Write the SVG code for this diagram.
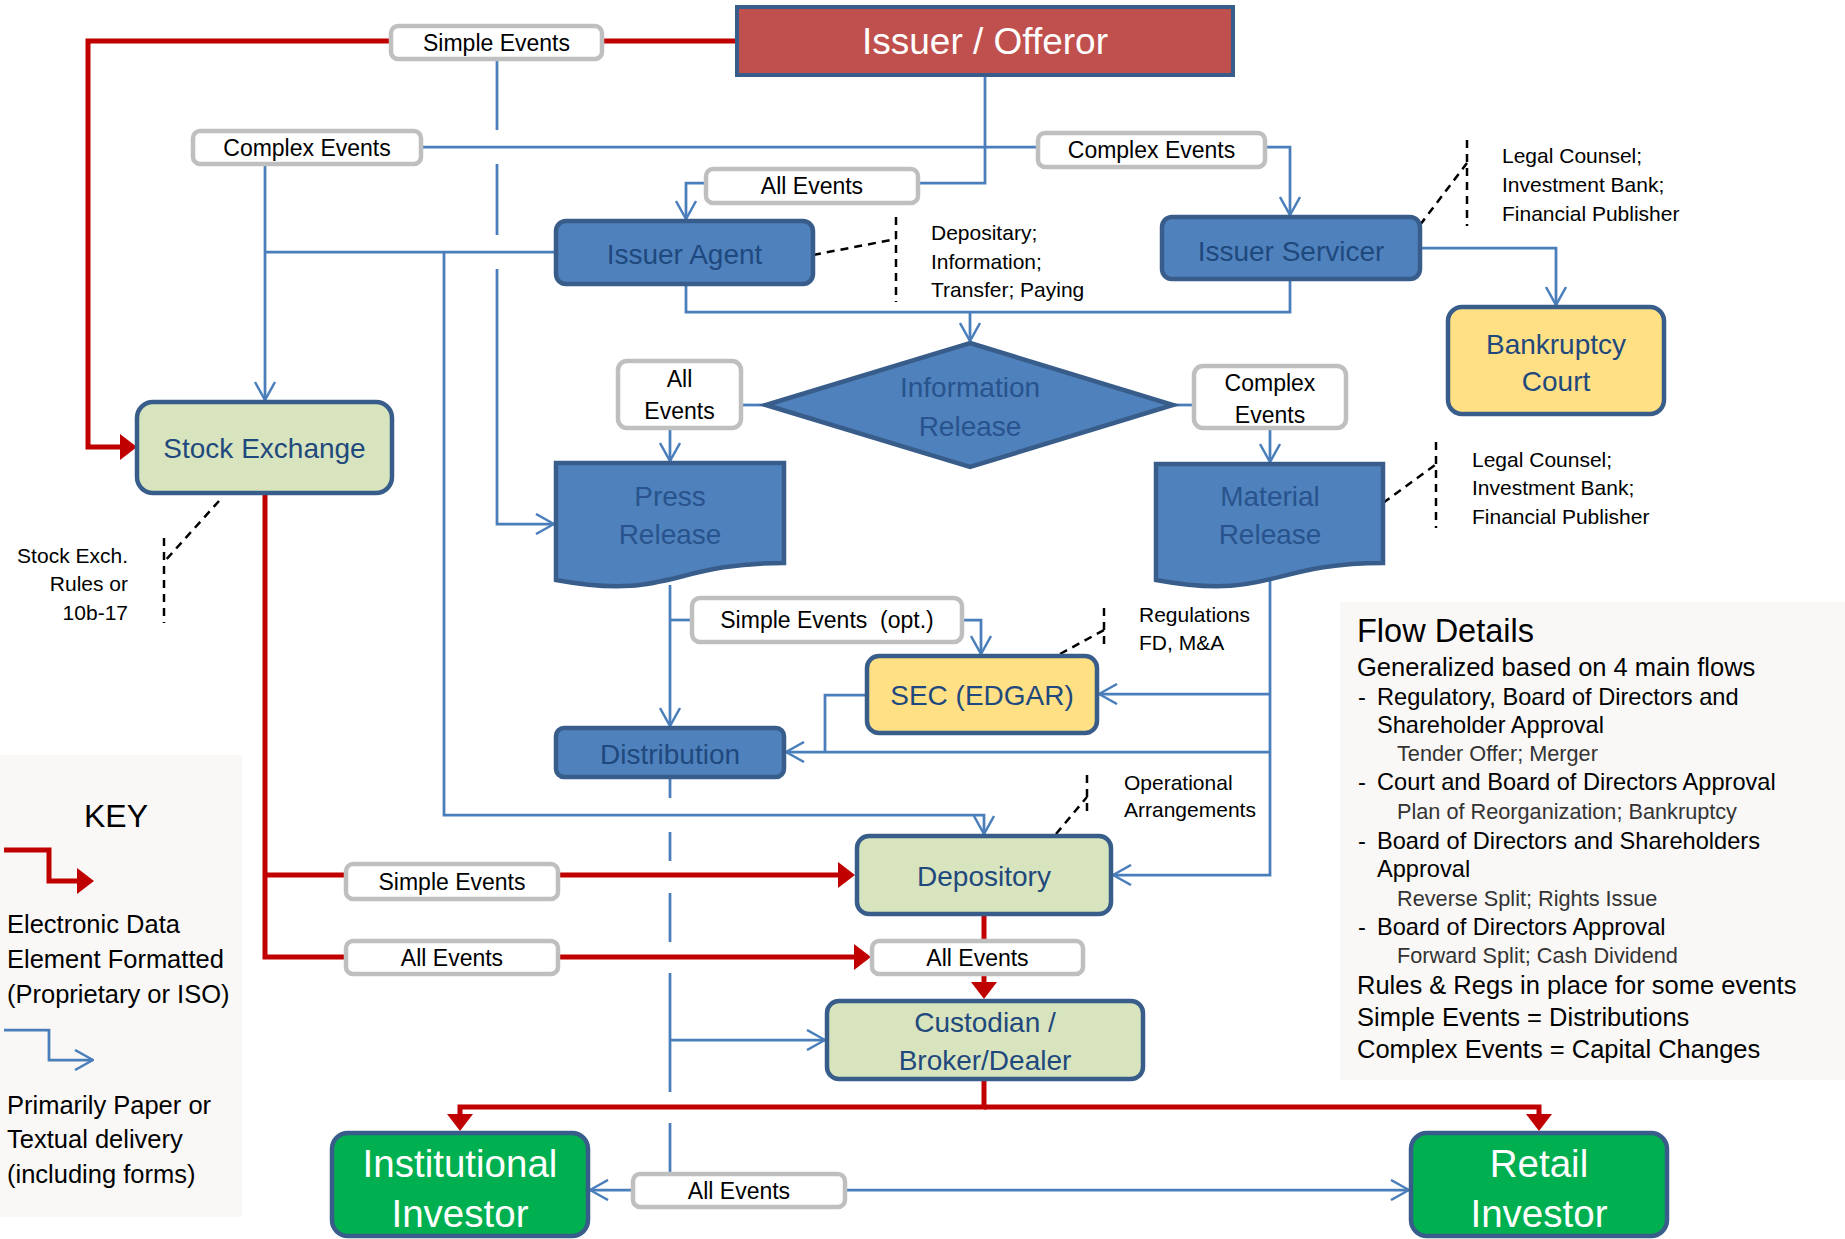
<svg xmlns="http://www.w3.org/2000/svg" width="1845" height="1239" viewBox="0 0 1845 1239">
  <defs>
    <style>
      text { font-family: "Liberation Sans", Arial, sans-serif; }
      .bl { fill: none; stroke: #4A7EBB; stroke-width: 2.75; }
      .rd { fill: none; stroke: #C00000; stroke-width: 5; }
      .dsh { fill: none; stroke: #000; stroke-width: 2.5; stroke-dasharray: 8 6; }
      .lbl { fill: #fff; stroke: #BFBFBF; stroke-width: 4.5; }
      .nb { stroke: #385D8A; stroke-width: 4.5; }
      .blue { fill: #4F81BD; }
      .green { fill: #D7E4BD; }
      .yel { fill: #FFE085; }
      .inv { fill: #00B050; }
      .panel { fill: #F9F8F6; }
      .lt { font-size: 23px; text-anchor: middle; fill: #000; }
      .nt { font-size: 28px; text-anchor: middle; fill: #1F497D; }
      .nt2 { font-size: 28px; text-anchor: middle; fill: #28538C; }
      .it { font-size: 38.5px; text-anchor: middle; fill: #fff; }
      .an { font-size: 21px; fill: #000; }
      .key { font-size: 25.5px; fill: #000; }
      .fd { font-size: 25.5px; fill: #000; }
      .fi { font-size: 23.6px; fill: #000; }
      .fs { font-size: 21.7px; fill: #333; }
    </style>
    <marker id="ab" viewBox="0 0 20 22" refX="19" refY="11" markerWidth="20" markerHeight="22" markerUnits="userSpaceOnUse" orient="auto">
      <path d="M1,1 L19,11 L1,21" fill="none" stroke="#4A7EBB" stroke-width="2.5"/>
    </marker>
    <marker id="ar" viewBox="0 0 17 26" refX="10" refY="13" markerWidth="17" markerHeight="26" markerUnits="userSpaceOnUse" orient="auto">
      <path d="M0,0 L17,13 L0,26 Z" fill="#C00000"/>
    </marker>
  </defs>

  <rect width="1845" height="1239" fill="#fff"/>

  <!-- side panels -->
  <rect class="panel" x="0" y="755" width="242" height="462"/>
  <rect class="panel" x="1340" y="602" width="505" height="478"/>

  <!-- connectors -->
  <g id="connectors">
    <!-- paper / textual flows -->
    <path class="bl" d="M985,75 V183 H918"/>
    <path class="bl" d="M421,147 H1038"/>
    <path class="bl" d="M1265,147 H1290 V215" marker-end="url(#ab)"/>
    <path class="bl" d="M706,183 H686 V219" marker-end="url(#ab)"/>
    <path class="bl" d="M265,164 V400" marker-end="url(#ab)"/>
    <path class="bl" d="M556,252 H265"/>
    <path class="bl" d="M444,252 V815 H984 V834" marker-end="url(#ab)"/>
    <path class="bl" d="M497,59 V130 M497,164 V235 M497,269 V524 H554" marker-end="url(#ab)"/>
    <path class="bl" d="M686,284 V312 H1290 V279"/>
    <path class="bl" d="M970,312 V341" marker-end="url(#ab)"/>
    <path class="bl" d="M1420,248 H1556 V305" marker-end="url(#ab)"/>
    <path class="bl" d="M766,405 H741"/>
    <path class="bl" d="M670,428 V461" marker-end="url(#ab)"/>
    <path class="bl" d="M1173,405 H1194"/>
    <path class="bl" d="M1270,428 V462" marker-end="url(#ab)"/>
    <path class="bl" d="M670,585 V726" marker-end="url(#ab)"/>
    <path class="bl" d="M670,620 H692"/>
    <path class="bl" d="M962,620 H981 V654" marker-end="url(#ab)"/>
    <path class="bl" d="M1270,579 V875 H1113" marker-end="url(#ab)"/>
    <path class="bl" d="M1270,694 H1099" marker-end="url(#ab)"/>
    <path class="bl" d="M1270,752 H786" marker-end="url(#ab)"/>
    <path class="bl" d="M867,695 H825 V752"/>
    <path class="bl" d="M670,777 V798 M670,832 V861 M670,893 V942 M670,973 V1092 M670,1123 V1174"/>
    <path class="bl" d="M670,1040 H825" marker-end="url(#ab)"/>
    <path class="bl" d="M633,1190 H590" marker-end="url(#ab)"/>
    <path class="bl" d="M845,1190 H1409" marker-end="url(#ab)"/>

    <!-- electronic data flows -->
    <path class="rd" d="M737,41 H602"/>
    <path class="rd" d="M391,41 H88 V447 H130" marker-end="url(#ar)"/>
    <path class="rd" d="M265,493 V957 H346"/>
    <path class="rd" d="M265,875 H346"/>
    <path class="rd" d="M558,875 H848" marker-end="url(#ar)"/>
    <path class="rd" d="M558,957 H864" marker-end="url(#ar)"/>
    <path class="rd" d="M984,914 V941"/>
    <path class="rd" d="M984,974 V992" marker-end="url(#ar)"/>
    <path class="rd" d="M984,1079 V1107 H460 V1124" marker-end="url(#ar)"/>
    <path class="rd" d="M984,1107 H1539 V1124" marker-end="url(#ar)"/>

    <!-- annotation leaders -->
    <path class="dsh" d="M1420,225 L1467,163 M1467,140 V226"/>
    <path class="dsh" d="M813,255 L896,239 M896,217 V302"/>
    <path class="dsh" d="M1383,503 L1435,465 M1436,442 V528"/>
    <path class="dsh" d="M1060,654 L1104,630 M1104,608 V648"/>
    <path class="dsh" d="M1056,834 L1087,797 M1087,775 V813"/>
    <path class="dsh" d="M219,501 L164,562 M164,538 V623"/>
  </g>

  <!-- connector labels -->
  <g id="labels">
    <rect class="lbl" x="391" y="26" width="211" height="33" rx="7"/>
    <text class="lt" x="496.5" y="51">Simple Events</text>
    <rect class="lbl" x="193" y="131" width="228" height="33" rx="7"/>
    <text class="lt" x="307" y="156">Complex Events</text>
    <rect class="lbl" x="1038" y="133" width="227" height="34" rx="7"/>
    <text class="lt" x="1151.5" y="158">Complex Events</text>
    <rect class="lbl" x="706" y="169" width="212" height="34" rx="7"/>
    <text class="lt" x="812" y="194">All Events</text>
    <rect class="lbl" x="618" y="361" width="123" height="67" rx="9"/>
    <text class="lt" x="679.5" y="387">All</text>
    <text class="lt" x="679.5" y="419">Events</text>
    <rect class="lbl" x="1194" y="366" width="152" height="62" rx="9"/>
    <text class="lt" x="1270" y="391">Complex</text>
    <text class="lt" x="1270" y="423">Events</text>
    <rect class="lbl" x="692" y="598" width="270" height="44" rx="8"/>
    <text class="lt" x="827" y="628">Simple Events&#160; (opt.)</text>
    <rect class="lbl" x="346" y="864" width="212" height="35" rx="7"/>
    <text class="lt" x="452" y="890">Simple Events</text>
    <rect class="lbl" x="346" y="941" width="212" height="33" rx="7"/>
    <text class="lt" x="452" y="966">All Events</text>
    <rect class="lbl" x="872" y="941" width="211" height="33" rx="7"/>
    <text class="lt" x="977.5" y="966">All Events</text>
    <rect class="lbl" x="633" y="1174" width="212" height="33" rx="7"/>
    <text class="lt" x="739" y="1199">All Events</text>
  </g>

  <!-- nodes -->
  <g id="issuer">
    <rect x="737" y="7" width="496" height="68" fill="#C0504D" stroke="#385D8A" stroke-width="4"/>
    <text x="985" y="54" font-size="37" text-anchor="middle" fill="#fff">Issuer / Offeror</text>
  </g>
  <g id="issuer-agent">
    <rect class="nb blue" x="556" y="221" width="257" height="63" rx="10"/>
    <text class="nt" x="684.5" y="264">Issuer Agent</text>
  </g>
  <g id="issuer-servicer">
    <rect class="nb blue" x="1162" y="217" width="258" height="62" rx="10"/>
    <text class="nt" x="1291" y="261">Issuer Servicer</text>
  </g>
  <g id="bankruptcy-court">
    <rect class="nb yel" x="1448" y="307" width="216" height="107" rx="14"/>
    <text class="nt" x="1556" y="354">Bankruptcy</text>
    <text class="nt" x="1556" y="391">Court</text>
  </g>
  <g id="stock-exchange">
    <rect class="nb green" x="137" y="402" width="255" height="91" rx="16"/>
    <text class="nt" x="264.5" y="458">Stock Exchange</text>
  </g>
  <g id="information-release">
    <polygon class="nb blue" points="970,343 1173,405 970,467 766,405"/>
    <text class="nt2" x="970" y="397">Information</text>
    <text class="nt2" x="970" y="436">Release</text>
  </g>
  <g id="press-release">
    <path class="nb blue" d="M556,463 H784 V563 C670,563 670,601 556,580 Z"/>
    <text class="nt2" x="670" y="506">Press</text>
    <text class="nt2" x="670" y="544">Release</text>
  </g>
  <g id="material-release">
    <path class="nb blue" d="M1156,464 H1383 V563 C1270,563 1270,601 1156,580 Z"/>
    <text class="nt2" x="1270" y="506">Material</text>
    <text class="nt2" x="1270" y="544">Release</text>
  </g>
  <g id="sec-edgar">
    <rect class="nb yel" x="867" y="656" width="230" height="77" rx="12"/>
    <text class="nt" x="982" y="705" font-size="27">SEC (EDGAR)</text>
  </g>
  <g id="distribution">
    <rect class="nb blue" x="556" y="728" width="228" height="49" rx="8"/>
    <text class="nt" x="670" y="764">Distribution</text>
  </g>
  <g id="depository">
    <rect class="nb green" x="857" y="836" width="254" height="78" rx="12"/>
    <text class="nt" x="984" y="886">Depository</text>
  </g>
  <g id="custodian">
    <rect class="nb green" x="827" y="1001" width="316" height="78" rx="12"/>
    <text class="nt" x="985" y="1032">Custodian /</text>
    <text class="nt" x="985" y="1070">Broker/Dealer</text>
  </g>
  <g id="institutional-investor">
    <rect class="nb inv" x="332" y="1133" width="256" height="103" rx="16"/>
    <text class="it" x="460" y="1177">Institutional</text>
    <text class="it" x="460" y="1227">Investor</text>
  </g>
  <g id="retail-investor">
    <rect class="nb inv" x="1411" y="1133" width="256" height="103" rx="16"/>
    <text class="it" x="1539" y="1177">Retail</text>
    <text class="it" x="1539" y="1227">Investor</text>
  </g>

  <!-- annotations -->
  <g id="notes">
    <text class="an" x="1502" y="163">Legal Counsel;</text>
    <text class="an" x="1502" y="192">Investment Bank;</text>
    <text class="an" x="1502" y="221">Financial Publisher</text>
    <text class="an" x="931" y="240">Depositary;</text>
    <text class="an" x="931" y="269">Information;</text>
    <text class="an" x="931" y="297">Transfer; Paying</text>
    <text class="an" x="1472" y="467">Legal Counsel;</text>
    <text class="an" x="1472" y="495">Investment Bank;</text>
    <text class="an" x="1472" y="524">Financial Publisher</text>
    <text class="an" x="1139" y="622">Regulations</text>
    <text class="an" x="1139" y="650">FD, M&amp;A</text>
    <text class="an" x="1124" y="790">Operational</text>
    <text class="an" x="1124" y="817">Arrangements</text>
    <text class="an" x="128" y="563" text-anchor="end">Stock Exch.</text>
    <text class="an" x="128" y="591" text-anchor="end">Rules or</text>
    <text class="an" x="128" y="620" text-anchor="end">10b-17</text>
  </g>

  <!-- key -->
  <g id="key">
    <text x="116" y="827" font-size="32" text-anchor="middle" fill="#000">KEY</text>
    <path class="rd" d="M4,850 H49 V881 H87" marker-end="url(#ar)"/>
    <text class="key" x="7" y="933">Electronic Data</text>
    <text class="key" x="7" y="968">Element Formatted</text>
    <text class="key" x="7" y="1003">(Proprietary or ISO)</text>
    <path class="bl" d="M4,1030 H49 V1060 H93" marker-end="url(#ab)"/>
    <text class="key" x="7" y="1114">Primarily Paper or</text>
    <text class="key" x="7" y="1148">Textual delivery</text>
    <text class="key" x="7" y="1183">(including forms)</text>
  </g>

  <!-- flow details -->
  <g id="flow-details">
    <text x="1357" y="642" font-size="32.5" fill="#000">Flow Details</text>
    <text class="fd" x="1357" y="676">Generalized based on 4 main flows</text>
    <text class="fi" x="1358" y="705">-</text>
    <text class="fi" x="1377" y="705">Regulatory, Board of Directors and</text>
    <text class="fi" x="1377" y="733">Shareholder Approval</text>
    <text class="fs" x="1397" y="761">Tender Offer; Merger</text>
    <text class="fi" x="1358" y="790">-</text>
    <text class="fi" x="1377" y="790">Court and Board of Directors Approval</text>
    <text class="fs" x="1397" y="819">Plan of Reorganization; Bankruptcy</text>
    <text class="fi" x="1358" y="849">-</text>
    <text class="fi" x="1377" y="849">Board of Directors and Shareholders</text>
    <text class="fi" x="1377" y="877">Approval</text>
    <text class="fs" x="1397" y="906">Reverse Split; Rights Issue</text>
    <text class="fi" x="1358" y="935">-</text>
    <text class="fi" x="1377" y="935">Board of Directors Approval</text>
    <text class="fs" x="1397" y="963">Forward Split; Cash Dividend</text>
    <text class="fd" x="1357" y="994">Rules &amp; Regs in place for some events</text>
    <text class="fd" x="1357" y="1026">Simple Events = Distributions</text>
    <text class="fd" x="1357" y="1058">Complex Events = Capital Changes</text>
  </g>
</svg>
